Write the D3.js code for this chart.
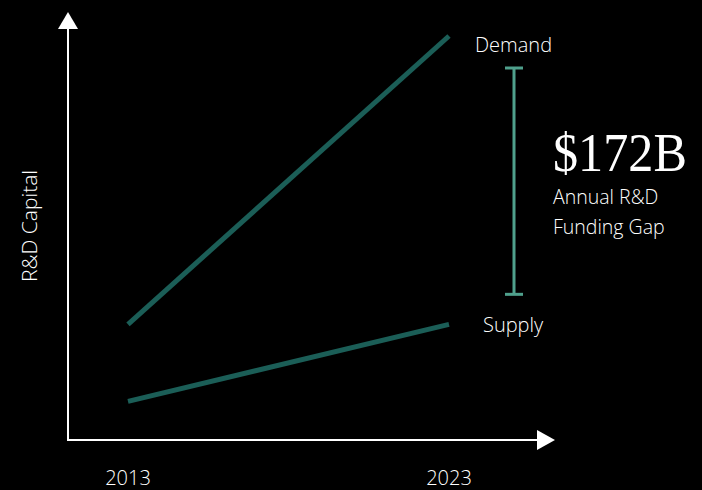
<!DOCTYPE html>
<html>
<head>
<meta charset="utf-8">
<script src="https://cdn.jsdelivr.net/npm/d3@7"></script>
<style>
  html, body { margin: 0; padding: 0; background: #000; }
  svg { display: block; }
  .sans { font-family: "Open Sans", "Lato", sans-serif; font-weight: 300; fill: #fff; }
  .serif { font-family: "Liberation Serif", "DejaVu Serif", serif; fill: #fff; }
</style>
</head>
<body>
<svg id="chart" width="702" height="490"></svg>
<script>
// Years on the horizontal axis and R&D capital (US$ billions) per series
const years = [2013, 2023];
const demand = [69, 241];
const supply = [23, 69];
const gapLabel = "$172B";
const gapCaption = ["Annual R&D", "Funding Gap"];
const yearLabels = ["2013", "2023"];
const seriesNames = ["Demand", "Supply"];

const svg = d3.select("#chart");

const originX = 68, originY = 440;
const x = d3.scaleLinear().domain([2013, 2023]).range([128, 449]);
const y = d3.scaleLinear().domain([0, 241]).range([originY, 36]);

const lineColor = "#1b5e57";
const gapColor = "#4fa08c";

// Axes with arrowheads
svg.append("line")
  .attr("x1", originX).attr("y1", originY + 1)
  .attr("x2", originX).attr("y2", 26)
  .attr("stroke", "#fff").attr("stroke-width", 2);
svg.append("path")
  .attr("d", `M${originX},12 L${originX + 10},29 L${originX - 10},29 Z`)
  .attr("fill", "#fff");

svg.append("line")
  .attr("x1", originX - 1).attr("y1", originY)
  .attr("x2", 540).attr("y2", originY)
  .attr("stroke", "#fff").attr("stroke-width", 2);
svg.append("path")
  .attr("d", `M555,${originY} L537,${originY - 10} L537,${originY + 10} Z`)
  .attr("fill", "#fff");

// Series lines
const line = d3.line().x(d => x(d[0])).y(d => y(d[1]));
[demand, supply].forEach(vals => {
  svg.append("path")
    .attr("d", line(years.map((yr, i) => [yr, vals[i]])))
    .attr("fill", "none")
    .attr("stroke", lineColor)
    .attr("stroke-width", 5);
});

// Series labels
svg.append("text").attr("class", "sans")
  .attr("x", 475).attr("y", 52).attr("font-size", 20)
  .text(seriesNames[0]);
svg.append("text").attr("class", "sans")
  .attr("x", 483).attr("y", 332).attr("font-size", 20)
  .text(seriesNames[1]);

// Gap bracket between the 2023 values
const bx = 514;
const bTop = y(demand[1]) + 32, bBot = y(supply[1]) - 30;
svg.append("line")
  .attr("x1", bx).attr("x2", bx).attr("y1", bTop).attr("y2", bBot)
  .attr("stroke", gapColor).attr("stroke-width", 3);
[bTop, bBot].forEach(v => {
  svg.append("line")
    .attr("x1", bx - 9).attr("x2", bx + 9).attr("y1", v).attr("y2", v)
    .attr("stroke", gapColor).attr("stroke-width", 3);
});

// Gap annotation
svg.append("text").attr("class", "serif")
  .attr("x", 553).attr("y", 171).attr("font-size", 55)
  .attr("textLength", 134).attr("lengthAdjust", "spacingAndGlyphs")
  .text(gapLabel);
gapCaption.forEach((t, i) => {
  svg.append("text").attr("class", "sans")
    .attr("x", 553).attr("y", 204 + i * 30).attr("font-size", 19.5)
    .text(t);
});

// Year labels
yearLabels.forEach((t, i) => {
  svg.append("text").attr("class", "sans")
    .attr("x", x(years[i])).attr("y", 485)
    .attr("text-anchor", "middle").attr("font-size", 20)
    .text(t);
});

// Vertical axis title
svg.append("text").attr("class", "sans")
  .attr("transform", "translate(37,226) rotate(-90)")
  .attr("text-anchor", "middle").attr("font-size", 21)
  .text("R&D Capital");
</script>
</body>
</html>
